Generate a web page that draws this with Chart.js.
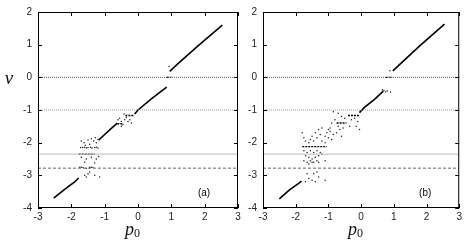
<!DOCTYPE html>
<html>
<head>
<meta charset="utf-8">
<script src="https://cdn.jsdelivr.net/npm/chart.js@4.4.1/dist/chart.umd.min.js"></script>
<style>
html, body { margin: 0; padding: 0; background: #fff; }
#wrap { position: relative; width: 465px; height: 241px; overflow: hidden; }
#wrap > div { position: absolute; top: 0; height: 241px; }
</style>
</head>
<body>
<div id="wrap">
  <div style="left:0;width:245px"><canvas id="chartA"></canvas></div>
  <div style="left:240px;width:225px"><canvas id="chartB"></canvas></div>
</div>
<script>
// ---- axes ----
const xTicks = [-3, -2, -1, 0, 1, 2, 3];
const yTicks = [-4, -3, -2, -1, 0, 1, 2];

// horizontal reference levels: [nu, style]
const refLevels = [
    [0, 'dotDark'],
    [-1, 'dotLight'],
    [-2.35, 'solidGray'],
    [-2.78, 'dashDark']
];

// ---- panel (a) ----
const aLow = [[-2.53, -3.7], [-2.2, -3.43], [-1.9, -3.2], [-1.78, -3.08]];
const aMid = [[-1.18, -1.92], [-1.0, -1.75], [-0.8, -1.56], [-0.62, -1.4]];
const aCentre = [[-0.1, -1.12], [0, -1.0], [0.4, -0.66], [0.86, -0.3]];
const aTop = [[0.95, 0.18], [1.2, 0.42], [1.8, 0.96], [2.53, 1.6]];
// plateaus: [from, to, nu]
const aFlats = [[-1.78, -1.3, -2.35], [-0.62, -0.45, -1.42], [-0.38, -0.12, -1.17], [0.86, 1.0, 0]];
const aDots = [
    [-1.72, -2.15], [-1.66, -2.15], [-1.6, -2.14], [-1.55, -2.16], [-1.5, -2.15], [-1.42, -2.14],
    [-1.38, -2.16], [-1.3, -2.15], [-1.25, -2.14], [-1.2, -2.16],
    [-1.7, -1.95], [-1.62, -2.0], [-1.5, -1.92], [-1.4, -1.88], [-1.33, -1.95], [-1.25, -2.0],
    [-1.45, -2.05], [-1.58, -2.08], [-1.2, -1.9], [-1.28, -1.85],
    [-1.7, -2.45], [-1.55, -2.5], [-1.4, -2.45], [-1.25, -2.5], [-1.6, -2.6], [-1.3, -2.62], [-1.18, -2.42],
    [-1.75, -2.75], [-1.7, -2.75], [-1.65, -2.76], [-1.45, -2.75], [-1.4, -2.75], [-1.35, -2.76], [-1.55, -2.78],
    [-1.6, -3.0], [-1.5, -2.95], [-1.45, -2.9], [-1.3, -3.0], [-1.15, -3.05], [-1.55, -3.05],
    [-0.6, -1.3], [-0.55, -1.25], [-0.5, -1.35], [-0.45, -1.45], [-0.4, -1.3], [-0.35, -1.22],
    [-0.3, -1.35], [-0.25, -1.3], [-0.2, -1.4], [-0.5, -1.5], [-0.42, -1.12], [0.93, 0.33]
];

// ---- panel (b) ----
const bLow = [[-2.5, -3.72], [-2.2, -3.45], [-1.9, -3.24], [-1.82, -3.18]];
const bCentre = [[-0.05, -1.08], [0.1, -0.92], [0.4, -0.68], [0.68, -0.42]];
const bTop = [[0.97, 0.2], [1.1, 0.32], [1.8, 0.97], [2.55, 1.63]];
const bFlats = [[-1.8, -1.05, -2.12], [-0.75, -0.45, -1.4], [-0.4, -0.05, -1.17], [0.75, 0.95, 0]];
const bDots = [
    [-0.85, -1.05], [-0.7, -1.1], [-0.6, -1.2], [-0.5, -1.25], [-0.3, -1.3], [-0.2, -1.25],
    [-0.1, -1.35], [-0.05, -1.6], [-0.15, -1.5], [-0.35, -1.5], [-0.55, -1.55], [-0.65, -1.6],
    [-0.8, -1.3], [-0.9, -1.4], [-0.95, -1.55], [-1.0, -1.6], [-1.05, -1.7], [-1.1, -1.8],
    [-0.75, -1.7], [-0.85, -1.75], [-0.95, -1.65], [-1.2, -1.55], [-1.3, -1.6], [-1.25, -1.75],
    [-1.4, -1.7], [-1.35, -1.85], [-1.5, -1.8], [-1.55, -1.9], [-1.45, -1.95], [-1.6, -2.0],
    [-1.7, -1.95], [-1.8, -1.7], [-1.75, -1.85], [-1.2, -1.95], [-1.1, -2.0], [-1.0, -1.85],
    [-0.9, -1.9], [-0.7, -1.5], [-0.6, -1.8],
    [-1.75, -2.25], [-1.65, -2.3], [-1.55, -2.25], [-1.45, -2.3], [-1.35, -2.25], [-1.25, -2.3],
    [-1.7, -2.4], [-1.6, -2.45], [-1.5, -2.5], [-1.4, -2.45], [-1.3, -2.4], [-1.75, -2.55],
    [-1.65, -2.6], [-1.55, -2.55], [-1.45, -2.6], [-1.35, -2.55], [-1.6, -2.65], [-1.5, -2.6],
    [-1.3, -2.6], [-1.1, -2.55], [-1.2, -2.35],
    [-1.65, -2.95], [-1.45, -2.95], [-1.35, -2.9], [-1.6, -3.1], [-1.5, -3.15], [-1.4, -3.2],
    [-1.3, -3.05], [-1.1, -3.15], [-1.7, -3.2],
    [0.65, -0.38], [0.7, -0.4], [0.75, -0.45], [0.8, -0.42], [0.9, -0.45], [0.88, 0.2]
];

const refStyle = {
    dotDark: { color: '#555', dash: [1, 1] },
    dotLight: { color: '#999', dash: [1, 1] },
    solidGray: { color: '#bbb', dash: [] },
    dashDark: { color: '#666', dash: [3, 2] }
};

function pts(list) {
    return list.map(p => ({ x: p[0], y: p[1] }));
}

function curve(list) {
    return {
        data: pts(list),
        showLine: true,
        borderColor: '#000',
        borderWidth: 1.6,
        pointRadius: 0,
        tension: 0
    };
}

function buildDatasets(curves, flats, dots) {
    const sets = refLevels.map(([nu, st]) => ({
        data: [{ x: -3, y: nu }, { x: 3, y: nu }],
        showLine: true,
        borderColor: refStyle[st].color,
        borderDash: refStyle[st].dash,
        borderWidth: 1,
        pointRadius: 0
    }));
    curves.forEach(c => sets.push(curve(c)));
    flats.forEach(f => {
        const s = curve([[f[0], f[2]], [f[1], f[2]]]);
        s.borderWidth = 1.4;
        s.borderDash = [2, 1];
        sets.push(s);
    });
    sets.push({
        data: pts(dots),
        showLine: false,
        pointRadius: 0.75,
        pointBorderWidth: 0,
        pointBackgroundColor: '#222'
    });
    return sets;
}

// box round the plot, inward ticks on all four sides, axis names and panel tag
const framePlugin = {
    id: 'frame',
    afterDraw(chart, args, opts) {
        const { ctx, chartArea: a, scales } = chart;
        ctx.save();
        ctx.strokeStyle = '#000';
        ctx.lineWidth = 1;
        ctx.strokeRect(a.left + 0.5, a.top + 0.5, a.right - a.left - 1, a.bottom - a.top - 1);
        const len = 4;
        ctx.beginPath();
        xTicks.forEach(v => {
            const px = Math.round(scales.x.getPixelForValue(v)) + 0.5;
            ctx.moveTo(px, a.bottom); ctx.lineTo(px, a.bottom - len);
            ctx.moveTo(px, a.top); ctx.lineTo(px, a.top + len);
        });
        yTicks.forEach(v => {
            const py = Math.round(scales.y.getPixelForValue(v)) + 0.5;
            ctx.moveTo(a.left, py); ctx.lineTo(a.left + len, py);
            ctx.moveTo(a.right, py); ctx.lineTo(a.right - len, py);
        });
        ctx.stroke();

        ctx.fillStyle = '#000';
        ctx.font = '10px "Liberation Sans", Arial, sans-serif';
        ctx.textAlign = 'center';
        ctx.textBaseline = 'middle';
        ctx.fillText(opts.tag, a.right - 34, a.bottom - 15);

        // x axis name: italic p with upright subscript 0
        const cx = (a.left + a.right) / 2 - 13;
        ctx.textAlign = 'left';
        ctx.textBaseline = 'alphabetic';
        ctx.fillStyle = '#111';
        ctx.font = 'italic 18px "Liberation Serif", "DejaVu Serif", serif';
        ctx.fillText('p', cx, 235);
        const pw = ctx.measureText('p').width;
        ctx.font = '12px "Liberation Serif", "DejaVu Serif", serif';
        ctx.fillText('0', cx + pw, 237);

        if (opts.nu) {
            ctx.textAlign = 'center';
            ctx.textBaseline = 'middle';
            ctx.font = 'italic 19px "Liberation Serif", "DejaVu Serif", serif';
            ctx.fillText('ν', 9, 79);
        }
        ctx.restore();
    }
};

function makeChart(id, datasets, tag, yWidth, padRight, showNu) {
    return new Chart(document.getElementById(id), {
        type: 'scatter',
        data: { datasets },
        options: {
            responsive: true,
            maintainAspectRatio: false,
            animation: false,
            layout: { padding: { top: 8, right: padRight, left: 0, bottom: 0 } },
            plugins: {
                legend: { display: false },
                tooltip: { enabled: false },
                frame: { tag, nu: showNu }
            },
            scales: {
                x: {
                    type: 'linear', min: -3, max: 3,
                    grid: { display: false, drawTicks: false },
                    border: { display: false },
                    afterBuildTicks: s => { s.ticks = xTicks.map(v => ({ value: v })); },
                    afterFit: s => { s.height = 33; },
                    ticks: {
                        padding: 3, color: '#222', maxRotation: 0,
                        font: { family: '"Liberation Sans", Arial, sans-serif', size: 10 }
                    }
                },
                y: {
                    type: 'linear', min: -4, max: 2,
                    grid: { display: false, drawTicks: false },
                    border: { display: false },
                    afterBuildTicks: s => { s.ticks = yTicks.map(v => ({ value: v })); },
                    afterFit: s => { s.width = yWidth; },
                    ticks: {
                        padding: 6, color: '#222',
                        font: { family: '"Liberation Sans", Arial, sans-serif', size: 10 }
                    }
                }
            }
        },
        plugins: [framePlugin]
    });
}

makeChart('chartA', buildDatasets([aLow, aMid, aCentre, aTop], aFlats, aDots), '(a)', 38, 7, true);
makeChart('chartB', buildDatasets([bLow, bCentre, bTop], bFlats, bDots), '(b)', 23, 1, false);
</script>
</body>
</html>
